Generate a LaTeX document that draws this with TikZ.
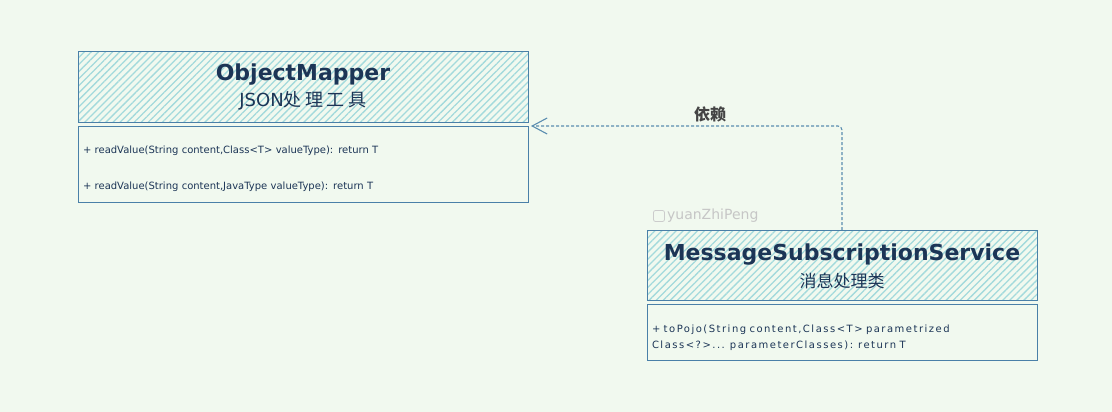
\documentclass[tikz,border=0pt]{standalone}
\usepackage{fontspec}
\setmainfont{DejaVu Sans}
\newfontfamily\widefont[LetterSpace=15]{DejaVu Sans}
\newfontfamily\cjk{Noto Sans CJK SC}
\newfontfamily\cjkwide[LetterSpace=20]{Noto Sans CJK SC}
\usetikzlibrary{positioning,arrows.meta,patterns.meta}
\definecolor{bgc}{HTML}{F1F9EF}
\definecolor{edgec}{HTML}{4A80A8}
\definecolor{hatchc}{HTML}{A3DADC}
\definecolor{inkc}{HTML}{1C3556}
\definecolor{depc}{HTML}{5A8DB0}
\definecolor{labc}{HTML}{444444}

\begin{document}
\begin{tikzpicture}[x=1pt,y=-1pt,
  head/.style={draw=edgec,line width=1pt,pattern={Lines[angle=45,distance=5pt,line width=1.3pt]},
    pattern color=hatchc,inner sep=0pt,outer sep=0pt,align=center,text=inkc},
  body/.style={draw=edgec,line width=1pt,inner xsep=5pt,inner ysep=0pt,outer sep=0pt,
    align=left,text=inkc},
  dep/.style={draw=depc,line width=1.1pt,dash pattern=on 3pt off 2pt,rounded corners=4pt,
    shorten >=3pt,-{Straight Barb[length=15pt,width=16pt]}}]
  \fill[bgc] (0,0) rectangle (1112,412);
  \useasboundingbox (0,0) rectangle (1112,412);

  % ObjectMapper
  \node[head,minimum width=450pt,minimum height=70pt,anchor=north west] (omh) at (78,52)
    {{\fontsize{22}{26}\selectfont\bfseries ObjectMapper}\\[6pt]
     {\fontsize{18}{20}\selectfont JSON{\cjkwide 处理工具}}};
  \node[body,minimum height=76pt,text width=440pt,font=\fontsize{10}{12}\selectfont] (omb) [below=4pt of omh]
    {\rule{0pt}{17pt}+ readValue(String content,Class<T> valueType): return T\\[24pt]
     + readValue(String content,JavaType valueType): return T};

  % MessageSubscriptionService
  \node[head,minimum width=390pt,minimum height=70pt,anchor=north west] (mssh) at (647,230)
    {\rule{0pt}{20pt}{\fontsize{22}{26}\selectfont\bfseries MessageSubscriptionService}\\[7pt]
     {\fontsize{17}{20}\selectfont\cjk 消息处理类}};
  \node[body,minimum height=56pt,text width=380pt,font=\widefont\fontsize{10}{12}\selectfont] (mssb) [below=4pt of mssh]
    {\rule{0pt}{19pt}+ toPojo(String content,Class<T> parametrized\\[4pt]
     Class<?>... parameterClasses): return T};

  % watermark
  \node[draw=gray!40,line width=0.8pt,rounded corners=2pt,minimum size=11pt,inner sep=0pt] (wmicon) at (659,216) {};
  \node[text=gray!45,font=\fontsize{14}{16}\selectfont,anchor=west,inner sep=1pt] (wm) [right=1pt of wmicon] {yuanZhiPeng};

  \path[dep] (mssh.north) |- node[pos=0.71,above=0pt,text=labc,font=\cjk\bfseries\fontsize{16}{18}\selectfont] (deplab) {依赖} (omb.north east);
\end{tikzpicture}
\end{document}
